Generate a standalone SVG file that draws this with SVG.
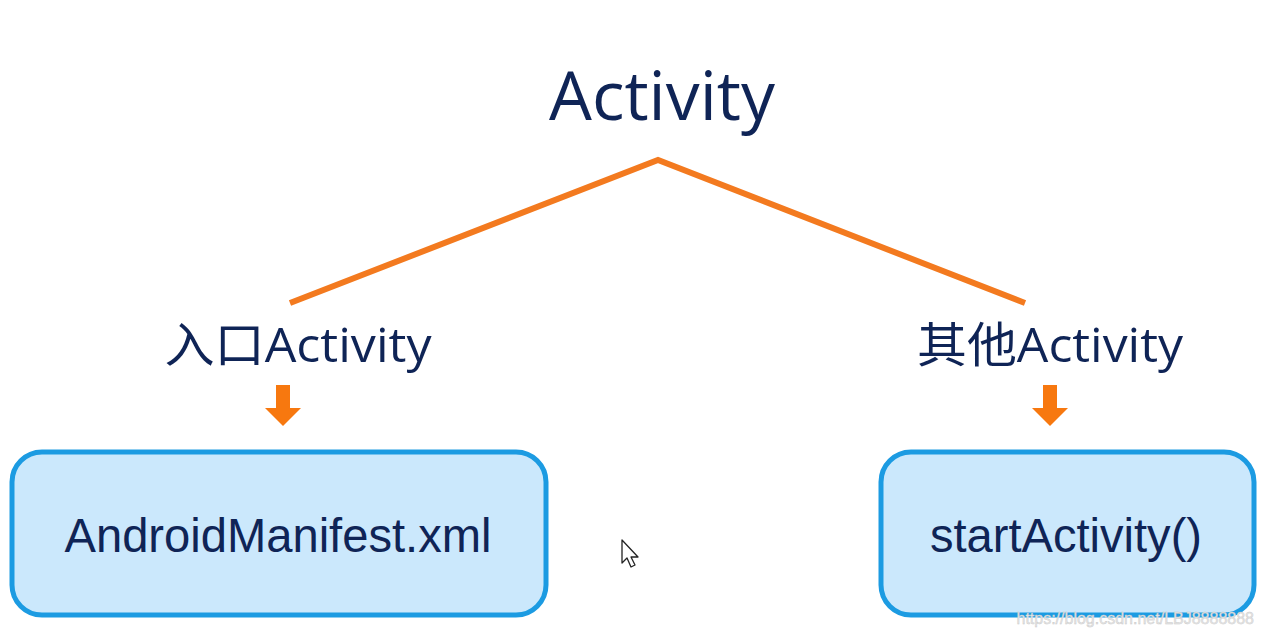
<svg xmlns="http://www.w3.org/2000/svg" width="1264" height="637" viewBox="0 0 1264 637">
<style>
.t{fill:#0f2456;font-family:"Open Sans","Noto Sans","Noto Sans CJK SC",sans-serif}
.b{fill:#0f2456;font-family:"Liberation Sans",Arial,sans-serif;font-size:48px}
.box{fill:#cbe8fc;stroke:#1c9be2;stroke-width:5}
.ln{stroke:#f37a1f;stroke-width:6;fill:none}
.ar{fill:#f7780f}
</style>
<rect width="1264" height="637" fill="#ffffff"/>
<g id="root"><text class="t" x="662" y="120" font-size="68" text-anchor="middle" textLength="226" lengthAdjust="spacingAndGlyphs">Activity</text></g>
<g id="connectors">
<path class="ln" d="M290,303 L658,160 L1025,303"/>
<path class="ar" d="M276,385 H290 V408 H301 L283,426 L265,408 H276 Z"/>
<path class="ar" d="M1043,385 H1057 V408 H1068 L1050,426 L1032,408 H1043 Z"/>
</g>
<g id="entry"><text class="t" x="298" y="362" font-size="48" text-anchor="middle" textLength="267" lengthAdjust="spacingAndGlyphs">入口Activity</text></g>
<g id="other"><text class="t" x="1050" y="362" font-size="48" text-anchor="middle" textLength="266" lengthAdjust="spacingAndGlyphs">其他Activity</text></g>
<g id="manifest">
<rect class="box" x="12" y="452" width="534" height="163" rx="30"/>
<text class="b" x="278" y="552" text-anchor="middle" textLength="427" lengthAdjust="spacingAndGlyphs">AndroidManifest.xml</text>
</g>
<g id="start">
<rect class="box" x="881" y="452" width="373" height="163" rx="30"/>
<text class="b" x="1066" y="552" text-anchor="middle" textLength="272" lengthAdjust="spacingAndGlyphs">startActivity()</text>
</g>
<path d="M622,540 V563 L627,558 L631,567 L635,565 L631,557 L638,557 Z" fill="#ffffff" stroke="#222" stroke-width="1.3" stroke-linejoin="round"/>
<text x="1254" y="624" text-anchor="end" font-family="Liberation Sans,Arial,sans-serif" font-size="16" fill="#e6e6e6" stroke="#c8c8c8" stroke-width="0.4">https://blog.csdn.net/LBJ8888888</text>
</svg>
